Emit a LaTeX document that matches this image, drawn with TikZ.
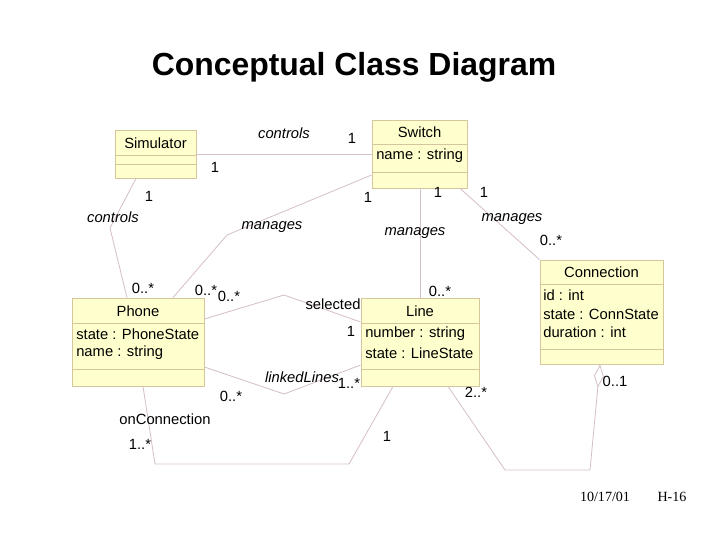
\documentclass[tikz,border=0pt]{standalone}
\usepackage{fontspec}
\setmainfont{Liberation Sans}
\newfontfamily\datefont{Liberation Serif}
\usetikzlibrary{arrows.meta,fit}
\definecolor{boxfill}{RGB}{255,255,206}
\definecolor{boxedge}{RGB}{214,198,158}
\definecolor{assocline}{RGB}{214,192,200}
\begin{document}
\begin{tikzpicture}[x=0.025cm,y=-0.025cm,
    classbox/.style={draw=boxedge,fill=boxfill,line width=0.6pt,inner sep=0pt},
    sepline/.style={draw=boxedge,line width=0.6pt},
    assoc/.style={draw=assocline,line width=0.6pt},
    ctitle/.style={font=\fontsize{10.5}{12}\selectfont,inner sep=0pt},
    attr/.style={font=\fontsize{10.5}{12}\selectfont,inner sep=0pt,anchor=west},
    role/.style={font=\fontsize{10.5}{12}\selectfont\itshape,inner sep=0pt},
    mult/.style={font=\fontsize{10.5}{12}\selectfont,inner sep=0pt}]
  \useasboundingbox (0,0) rectangle (720,540);
  \node[font=\fontsize{22.7}{27}\selectfont\bfseries] (title) at (354,67) {Conceptual Class Diagram};
  % classes
  \node[classbox,fit={(115,130) (196,178)}] (sim) {};
  \node[classbox,fit={(372,120) (467,188)}] (switch) {};
  \node[classbox,fit={(72,298) (204,386)}] (phone) {};
  \node[classbox,fit={(361,298) (479,386)}] (line) {};
  \node[classbox,fit={(540,260) (663,364)}] (conn) {};
  \foreach \c/\a/\b in {sim/155/164,switch/144/172,phone/323/369,line/323/369,conn/284/349} {
    \draw[sepline] (\c.west |- 0,\a) -- (\c.east |- 0,\a);
    \draw[sepline] (\c.west |- 0,\b) -- (\c.east |- 0,\b);
  }
  \node[ctitle] (simT) at (155.5,143) {Simulator};
  \node[ctitle] (switchT) at (419.5,132) {Switch};
  \node[ctitle] (phoneT) at (138,311) {Phone};
  \node[ctitle] (lineT) at (420,311) {Line};
  \node[ctitle] (connT) at (601.5,272) {Connection};
  \node[attr] (switchA) at (376,156) {name : string};
  \node[attr] (phoneA) at (76,334) {state : PhoneState};
  \node[attr] (phoneB) at (76,353) {name : string};
  \node[attr] (lineA) at (365,334) {number : string};
  \node[attr] (lineB) at (365,353) {state : LineState};
  \node[attr] (connA) at (543,295) {id : int};
  \node[attr] (connB) at (543,314) {state : ConnState};
  \node[attr] (connC) at (543,332) {duration : int};
  % associations
  \coordinate (b1) at (110,228);
  \coordinate (b2) at (227,235);
  \coordinate (b3) at (284,295);
  \coordinate (b4) at (284,394);
  \coordinate (b5) at (155,464);
  \coordinate (b6) at (349,464);
  \coordinate (b7) at (505,470);
  \coordinate (b8) at (590,470);
  \begin{scope}[assoc]
    \draw (sim.east) -- (switch.west);
    \draw (136,0 |- sim.south) -- (b1) -- (127,0 |- phone.north);
    \draw (switch.west |- 0,175) -- (b2) -- (173,0 |- phone.north);
    \draw (420,0 |- switch.south) -- (420,0 |- line.north);
    \draw (460,0 |- switch.south) -- (conn.north west);
    \draw (phone.east |- 0,319) -- (b3) -- (line.west |- 0,322);
    \draw (phone.east |- 0,367) -- (b4) -- (line.west |- 0,365);
    \draw (143,0 |- phone.south) -- (b5) -- (b6) -- (393,0 |- line.south);
    \draw[-{Diamond[open,length=0.58cm,width=0.25cm]}] (448,0 |- line.south) -- (b7) -- (b8) -- (600,0 |- conn.south);
  \end{scope}
  \node[role] (r1) at (284,133) {controls};
  \node[role] (r2) at (113,217) {controls};
  \node[role] (r3) at (272,227) {manages};
  \node[role] (r4) at (415,233) {manages};
  \node[role] (r5) at (512,219) {manages};
  \node[mult] (r6) at (333,304) {selected};
  \node[role] (r7) at (302,377) {linkedLines};
  \node[mult] (r8) at (165,419) {onConnection};
  \foreach \x/\y/\t [count=\i] in {352/138/1,215/167/1,149/196/1,143/288/0..*,368/197/1,
      206/290/0..*,438/192/1,440/291/0..*,484/192/1,551/240/0..*,229/296/0..*,351/331/1,
      231/396/0..*,349/383/1..*,140/444/1..*,387/436/1,615/381/0..1,476/392/2..*}
    \node[mult] (m\i) at (\x,\y) {\t};
  \node[font=\datefont\fontsize{10}{12}\selectfont] (date) at (605,497) {10/17/01};
  \node[font=\datefont\fontsize{10}{12}\selectfont] (page) at (672,497) {H-16};
\end{tikzpicture}
\end{document}
